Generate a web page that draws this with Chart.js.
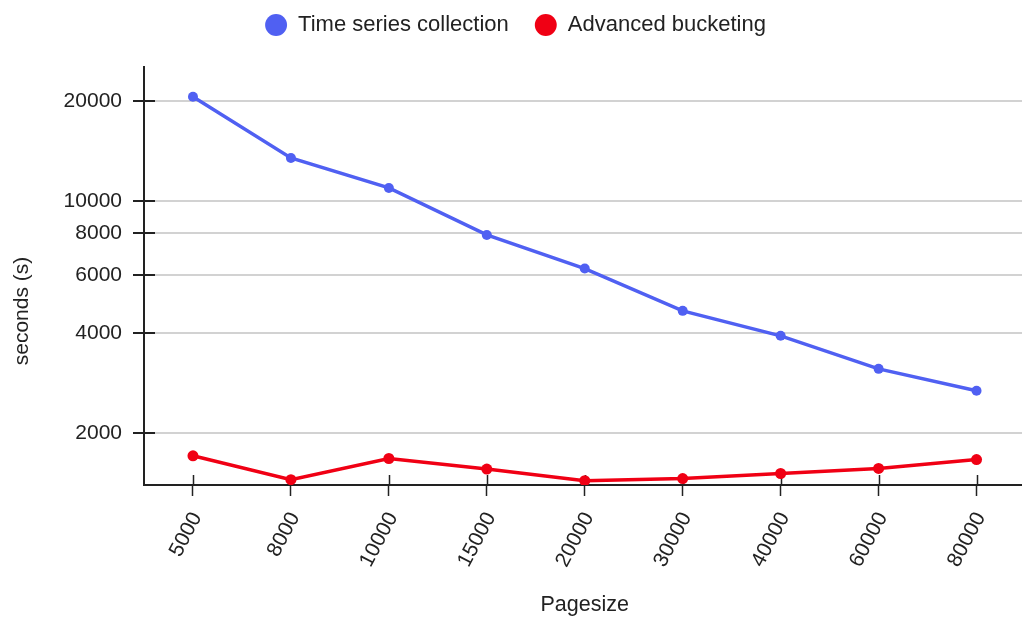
<!DOCTYPE html>
<html>
<head>
<meta charset="utf-8">
<script src="https://cdn.jsdelivr.net/npm/chart.js@4/dist/chart.umd.min.js"></script>
<style>
  html, body { margin: 0; padding: 0; background: #fff; overflow: hidden; }
  #wrap { width: 1031px; height: 619px; }
</style>
</head>
<body>
<div id="wrap"><canvas id="chart" width="1031" height="619"></canvas></div>
<script>
// Page sizes on the x axis
const pageSizes = ['5000', '8000', '10000', '15000', '20000', '30000', '40000', '60000', '80000'];
// Run time in seconds for each approach
const timeSeriesCollection = [20600, 13480, 10950, 7910, 6265, 4675, 3933, 3129, 2688];
const advancedBucketing = [1714, 1452, 1682, 1563, 1442, 1464, 1516, 1570, 1670];
// Labelled values on the log y axis
const yTickValues = [2000, 4000, 6000, 8000, 10000, 20000];

const FONT = "'Liberation Sans', Arial, sans-serif";
const INK = '#222';
const BLUE = '#5060f2';
const RED = '#f00014';

// Short tick marks drawn on the inner side of both axes
const innerTicks = {
  id: 'innerTicks',
  beforeDatasetsDraw(chart) {
    const { ctx, chartArea: a, scales: { x, y } } = chart;
    ctx.save();
    ctx.strokeStyle = INK;
    ctx.lineWidth = 2;
    ctx.beginPath();
    yTickValues.forEach(v => {
      const py = Math.round(y.getPixelForValue(v));
      ctx.moveTo(a.left, py);
      ctx.lineTo(a.left + 11, py);
    });
    ctx.stroke();
    ctx.lineWidth = 1.5;
    ctx.beginPath();
    pageSizes.forEach((_, i) => {
      const px = Math.round(x.getPixelForValue(i)) + 0.5;
      ctx.moveTo(px, a.bottom);
      ctx.lineTo(px, a.bottom - 10);
    });
    ctx.stroke();
    ctx.restore();
  }
};

// Fixed legend band height
const legendBand = {
  id: 'legendBand',
  beforeInit(chart) {
    if (!chart.legend) return;
    const fit = chart.legend.fit;
    chart.legend.fit = function () {
      fit.call(this);
      this.height = 79;
    };
  }
};

// Vertical axis caption
const yCaption = {
  id: 'yCaption',
  afterDraw(chart) {
    const { ctx } = chart;
    ctx.save();
    ctx.translate(22, 311);
    ctx.rotate(-Math.PI / 2);
    ctx.font = '21px ' + FONT;
    ctx.fillStyle = INK;
    ctx.textAlign = 'center';
    ctx.textBaseline = 'middle';
    ctx.fillText('seconds (s)', 0, 0);
    ctx.restore();
  }
};

new Chart(document.getElementById('chart'), {
  type: 'line',
  data: {
    labels: pageSizes,
    datasets: [
      {
        label: 'Time series collection',
        data: timeSeriesCollection,
        borderColor: BLUE,
        backgroundColor: BLUE,
        borderWidth: 3.5,
        pointRadius: 5,
        pointBorderWidth: 0,
        tension: 0
      },
      {
        label: 'Advanced bucketing',
        data: advancedBucketing,
        borderColor: RED,
        backgroundColor: RED,
        borderWidth: 3.5,
        pointRadius: 5.5,
        pointBorderWidth: 0,
        tension: 0
      }
    ]
  },
  options: {
    responsive: false,
    animation: false,
    layout: { padding: { top: -12, left: 0, right: 0, bottom: 0 } },
    plugins: {
      legend: {
        position: 'top',
        labels: {
          usePointStyle: true,
          pointStyle: 'circle',
          boxWidth: 22,
          boxHeight: 15.5,
          padding: 26,
          color: INK,
          font: { family: FONT, size: 22 }
        }
      },
      tooltip: { enabled: false }
    },
    scales: {
      x: {
        type: 'category',
        offset: true,
        border: { color: INK, width: 2 },
        grid: {
          display: true,
          drawOnChartArea: false,
          offset: false,
          tickLength: 11,
          tickColor: INK,
          tickWidth: 1.5
        },
        ticks: {
          color: INK,
          font: { family: FONT, size: 21 },
          minRotation: 62,
          maxRotation: 62,
          padding: 12,
          labelOffset: 4,
          autoSkip: false
        },
        title: {
          display: true,
          text: 'Pagesize',
          color: INK,
          font: { family: FONT, size: 21.5 },
          padding: { top: 0, bottom: 1 }
        },
        afterFit(s) { s.height = 134; }
      },
      y: {
        type: 'logarithmic',
        min: 1400,
        max: 25300,
        border: { color: INK, width: 2 },
        grid: {
          color: '#d2d2d2',
          lineWidth: 2,
          tickLength: 11,
          tickColor: INK,
          tickWidth: 2
        },
        ticks: {
          color: INK,
          font: { family: FONT, size: 21 },
          padding: 11,
          callback: v => String(v)
        },
        afterBuildTicks(s) {
          s.ticks = yTickValues.map(v => ({ value: v }));
        },
        afterFit(s) { s.width = 144; }
      }
    }
  },
  plugins: [innerTicks, legendBand, yCaption]
});
</script>
</body>
</html>
